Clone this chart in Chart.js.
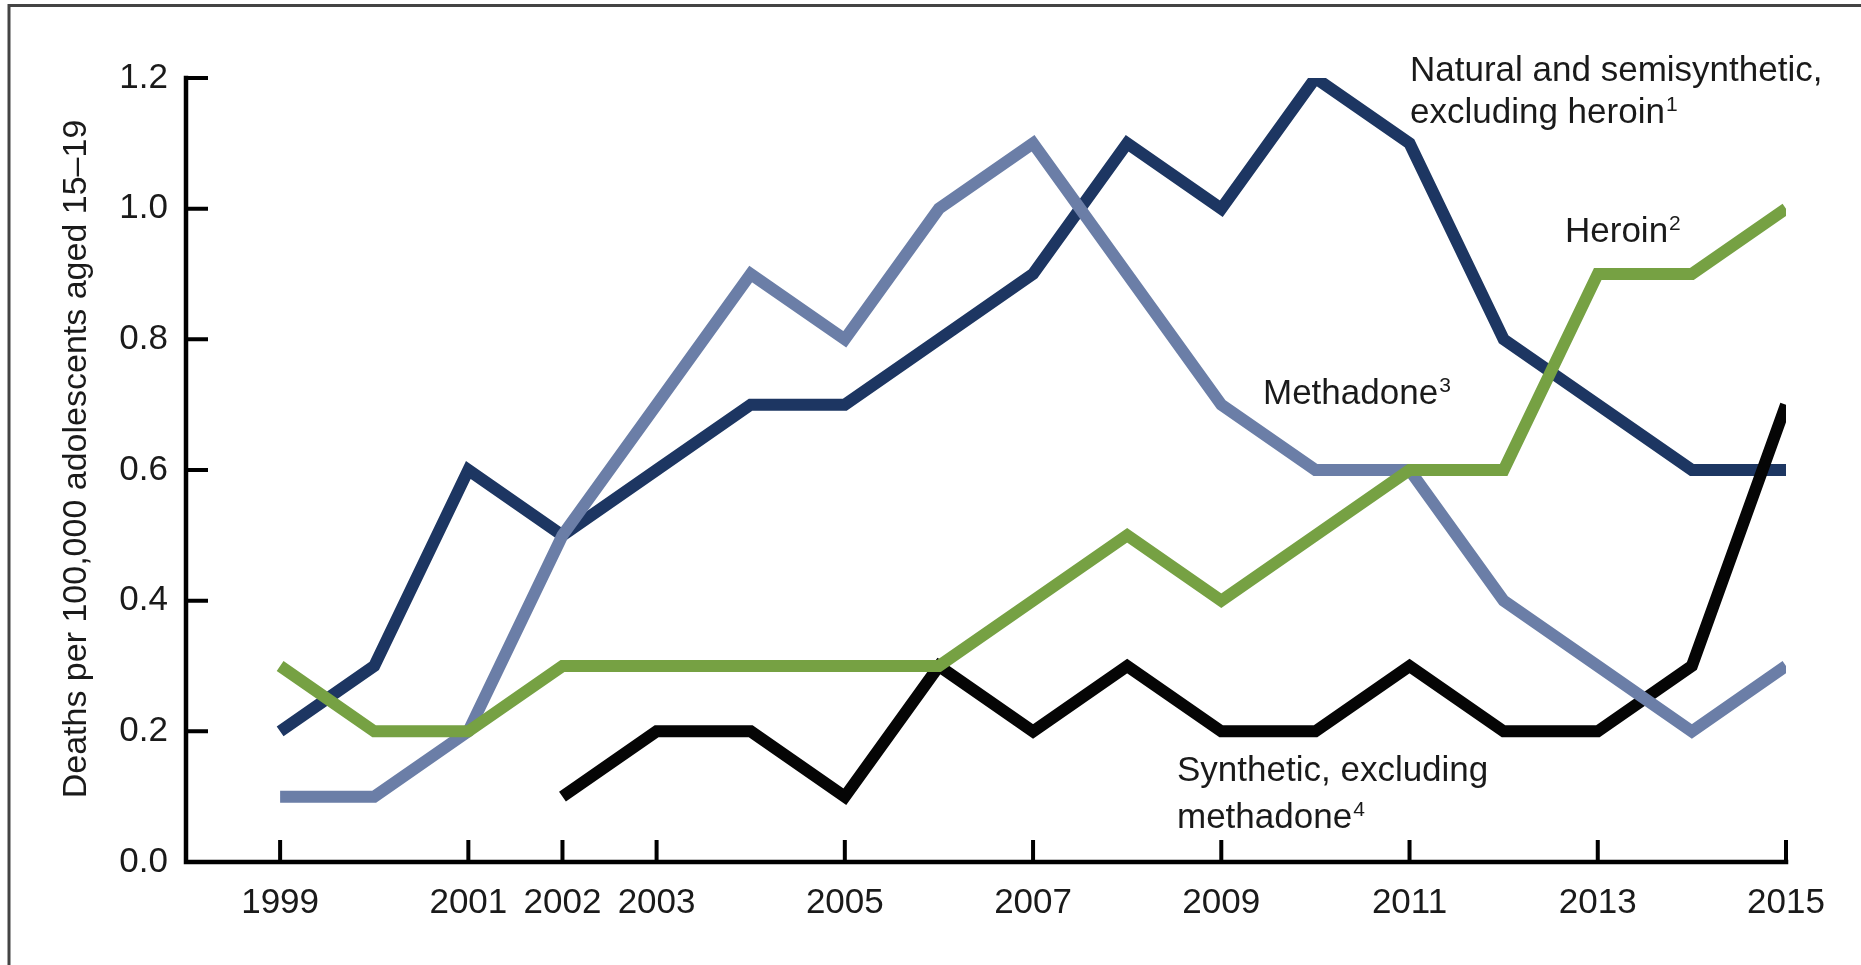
<!DOCTYPE html>
<html>
<head>
<meta charset="utf-8">
<script src="https://cdn.jsdelivr.net/npm/chart.js@4.4.1/dist/chart.umd.min.js"></script>
<style>
  html, body { margin: 0; padding: 0; background: #fff; }
  #wrap { width: 1861px; height: 965px; position: relative; }
</style>
</head>
<body>
<div id="wrap"><canvas id="opioidChart"></canvas></div>
<script>
var years = [1999, 2000, 2001, 2002, 2003, 2004, 2005, 2006, 2007, 2008, 2009, 2010, 2011, 2012, 2013, 2014, 2015];
var naturalSemi = [0.2, 0.3, 0.6, 0.5, 0.6, 0.7, 0.7, 0.8, 0.9, 1.1, 1.0, 1.2, 1.1, 0.8, 0.7, 0.6, 0.6];
var methadone   = [0.1, 0.1, 0.2, 0.5, 0.7, 0.9, 0.8, 1.0, 1.1, 0.9, 0.7, 0.6, 0.6, 0.4, 0.3, 0.2, 0.3];
var heroin      = [0.3, 0.2, 0.2, 0.3, 0.3, 0.3, 0.3, 0.3, 0.4, 0.5, 0.4, 0.5, 0.6, 0.6, 0.9, 0.9, 1.0];
var synthetic   = [null, null, null, 0.1, 0.2, 0.2, 0.1, 0.3, 0.2, 0.3, 0.2, 0.2, 0.3, 0.2, 0.2, 0.3, 0.7];
var xTickYears = [1999, 2001, 2002, 2003, 2005, 2007, 2009, 2011, 2013, 2015];
var yTickValues = [0.0, 0.2, 0.4, 0.6, 0.8, 1.0, 1.2];
var yTitle = 'Deaths per 100,000 adolescents aged 15\u201319';

var FONT = '"Liberation Sans", Arial, sans-serif';
var TEXT = '#1a1a1a';

function toPoints(values) {
    return years.map(function(y, i) { return { x: y, y: values[i] }; });
}

function lineSet(label, values, color, order) {
    return {
        label: label,
        data: toPoints(values),
        borderColor: color,
        backgroundColor: color,
        borderWidth: 12,
        borderCapStyle: 'butt',
        borderJoinStyle: 'miter',
        pointRadius: 0,
        pointHoverRadius: 0,
        tension: 0,
        fill: false,
        spanGaps: false,
        order: order
    };
}

// text with a small raised footnote number
function supText(ctx, x, y, main, sup) {
    ctx.font = '35px ' + FONT;
    ctx.fillText(main, x, y);
    if (sup) {
        var w = ctx.measureText(main).width;
        ctx.font = '21px ' + FONT;
        ctx.fillText(sup, x + w + 1, y - 12);
    }
}

var decorations = {
    id: 'decorations',
    beforeDraw: function(chart) {
        var ctx = chart.ctx;
        ctx.save();
        ctx.strokeStyle = '#444';
        ctx.lineWidth = 3;
        ctx.beginPath();
        ctx.moveTo(9, 965);
        ctx.lineTo(9, 5.5);
        ctx.lineTo(1861, 5.5);
        ctx.stroke();
        ctx.restore();
    },
    afterDraw: function(chart) {
        var ctx = chart.ctx;
        var xs = chart.scales.x, ys = chart.scales.y;
        var area = chart.chartArea;
        ctx.save();
        ctx.strokeStyle = '#000';
        ctx.lineCap = 'square';
        ctx.lineWidth = 4.5;
        ctx.beginPath();
        ctx.moveTo(area.left, ys.getPixelForValue(1.2));
        ctx.lineTo(area.left, ys.getPixelForValue(0));
        ctx.lineTo(xs.getPixelForValue(2015), ys.getPixelForValue(0));
        ctx.stroke();
        ctx.lineCap = 'butt';
        ctx.lineWidth = 4;
        ctx.beginPath();
        yTickValues.forEach(function(v) {
            var py = ys.getPixelForValue(v);
            ctx.moveTo(area.left, py);
            ctx.lineTo(area.left + 22, py);
        });
        xTickYears.forEach(function(v) {
            var px = xs.getPixelForValue(v);
            ctx.moveTo(px, ys.getPixelForValue(0));
            ctx.lineTo(px, ys.getPixelForValue(0) - 22);
        });
        ctx.stroke();

        ctx.fillStyle = TEXT;
        // y axis title
        ctx.save();
        ctx.translate(77, 459);
        ctx.rotate(-Math.PI / 2);
        ctx.textAlign = 'center';
        ctx.textBaseline = 'middle';
        ctx.font = '34px ' + FONT;
        ctx.fillText(yTitle, 0, 0);
        ctx.restore();

        ctx.textBaseline = 'alphabetic';
        ctx.textAlign = 'left';
        supText(ctx, 1410, 81, 'Natural and semisynthetic,');
        supText(ctx, 1410, 123, 'excluding heroin', '1');
        supText(ctx, 1565, 242, 'Heroin', '2');
        supText(ctx, 1263, 404, 'Methadone', '3');
        supText(ctx, 1177, 781, 'Synthetic, excluding');
        supText(ctx, 1177, 828, 'methadone', '4');
        ctx.restore();
    }
};

var ctx = document.getElementById('opioidChart').getContext('2d');
var chart = new Chart(ctx, {
    type: 'line',
    data: {
        datasets: [
            lineSet('Natural and semisynthetic, excluding heroin', naturalSemi, '#1d3662', 3),
            lineSet('Synthetic, excluding methadone', synthetic, '#050505', 2),
            lineSet('Methadone', methadone, '#6b7ea7', 1),
            lineSet('Heroin', heroin, '#76a143', 0)
        ]
    },
    options: {
        responsive: true,
        maintainAspectRatio: false,
        animation: false,
        events: [],
        layout: { padding: { left: 0, top: 78, right: 75, bottom: 0 } },
        plugins: {
            legend: { display: false },
            tooltip: { enabled: false }
        },
        scales: {
            x: {
                type: 'linear',
                min: 1998,
                max: 2015,
                afterFit: function(scale) { scale.height = 103; },
                afterBuildTicks: function(scale) {
                    scale.ticks = xTickYears.map(function(v) { return { value: v }; });
                },
                grid: { display: false, drawTicks: false },
                border: { display: false },
                ticks: {
                    padding: 20,
                    autoSkip: false,
                    maxRotation: 0,
                    color: TEXT,
                    font: { family: FONT, size: 35 },
                    callback: function(value) { return String(value); }
                }
            },
            y: {
                min: 0,
                max: 1.2,
                afterFit: function(scale) { scale.width = 186; },
                afterBuildTicks: function(scale) {
                    scale.ticks = yTickValues.map(function(v) { return { value: v }; });
                },
                grid: { display: false, drawTicks: false },
                border: { display: false },
                ticks: {
                    padding: 18,
                    color: TEXT,
                    font: { family: FONT, size: 35 },
                    callback: function(value) { return value.toFixed(1); }
                }
            }
        }
    },
    plugins: [decorations]
});
</script>
</body>
</html>
